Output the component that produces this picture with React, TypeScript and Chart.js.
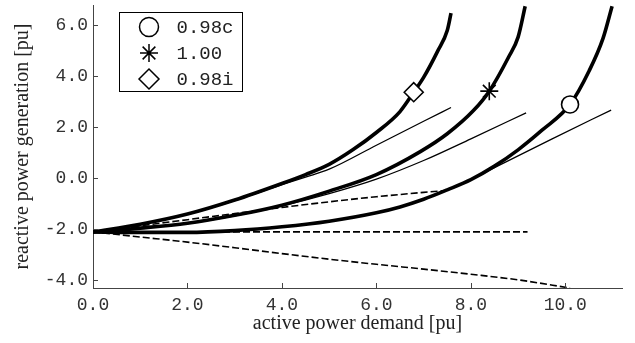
import React, { useEffect, useRef } from 'react';
import { Chart, registerables } from 'chart.js';
import { drawPoint } from 'chart.js/helpers';

Chart.register(...registerables);

// legend / marker series
const seriesLabels = ['0.98c', '1.00', '0.98i'];
const markerStyles = ['circle', 'star', 'rectRot'];
const markerX = [10.1, 8.39, 6.79];
const markerY = [2.9, 3.42, 3.38];

// thick curves
const thickCX = [0, 1, 2, 3, 4, 5, 6, 6.5, 7, 7.5, 8, 8.5, 9, 9.5, 10.1, 10.5, 10.8, 10.99];
const thickCY = [-2.1, -2.12, -2.12, -2.05, -1.9, -1.68, -1.35, -1.12, -0.82, -0.45, -0.05, 0.48, 1.12, 1.88, 2.9, 4.2, 5.5, 6.75];
const thickBX = [0, 1, 2, 3, 4, 5, 6, 6.93, 7.5, 8.06, 8.39, 8.8, 9.0, 9.15];
const thickBY = [-2.1, -1.95, -1.76, -1.45, -1.05, -0.5, 0.15, 1.05, 1.75, 2.67, 3.42, 4.76, 5.54, 6.75];
const thickAX = [0, 1, 2, 3, 4, 4.5, 5, 5.5, 6, 6.5, 6.79, 7.0, 7.3, 7.5, 7.58];
const thickAY = [-2.1, -1.8, -1.4, -0.85, -0.2, 0.15, 0.55, 1.12, 1.8, 2.62, 3.38, 3.96, 5.0, 5.8, 6.48];

// thin curves
const thinCX = [0, 1, 2, 3, 4, 5, 6, 6.5, 7, 7.5, 8, 8.5, 9.7, 10.97];
const thinCY = [-2.1, -2.12, -2.12, -2.05, -1.9, -1.68, -1.35, -1.12, -0.82, -0.45, -0.05, 0.42, 1.53, 2.68];
const thinBX = [0, 1, 2, 3, 4, 5, 6, 7, 8, 9.17];
const thinBY = [-2.1, -1.95, -1.77, -1.47, -1.08, -0.6, -0.03, 0.7, 1.55, 2.57];
const thinAX = [0, 1, 2, 3, 4, 4.5, 5, 6, 7, 7.58];
const thinAY = [-2.1, -1.8, -1.41, -0.87, -0.25, 0.05, 0.36, 1.3, 2.24, 2.78];

// dashed curves
const dash1X = [0, 1, 2, 3, 4, 5, 6, 7, 7.45];
const dash1Y = [-2.1, -1.86, -1.62, -1.38, -1.14, -0.92, -0.72, -0.55, -0.48];
const dash2X = [0, 9.2];
const dash2Y = [-2.1, -2.1];
const dash3X = [0, 1, 2, 3, 4, 5, 6, 7, 8, 9, 10.1];
const dash3Y = [-2.1, -2.3, -2.5, -2.72, -2.95, -3.17, -3.37, -3.56, -3.76, -3.98, -4.3];

// axes
const xTicks = [0, 2, 4, 6, 8, 10];
const yTicks = [-4, -2, 0, 2, 4, 6];
const xMin = 0;
const xMax = 11.2;
const yMin = -4.3;
const yMax = 6.8;
const xTitle = 'active power demand [pu]';
const yTitle = 'reactive power generation [pu]';

const zip = (xs: number[], ys: number[]) => xs.map((x, i) => ({ x, y: ys[i] }));

const MONO = "'Liberation Mono', 'DejaVu Sans Mono', monospace";
const SERIF = "'Liberation Serif', 'DejaVu Serif', serif";
const AXIS_COLOR = '#444';

const innerTicks = {
  id: 'innerTicks',
  afterDraw(chart: any) {
    const { ctx, chartArea, scales } = chart;
    ctx.save();
    ctx.strokeStyle = AXIS_COLOR;
    ctx.lineWidth = 1;
    ctx.beginPath();
    xTicks.forEach((v) => {
      const px = Math.round(scales.x.getPixelForValue(v)) + 0.5;
      ctx.moveTo(px, chartArea.bottom);
      ctx.lineTo(px, chartArea.bottom - 5);
    });
    yTicks.forEach((v) => {
      const py = Math.round(scales.y.getPixelForValue(v)) + 0.5;
      ctx.moveTo(chartArea.left, py);
      ctx.lineTo(chartArea.left + 5, py);
    });
    ctx.stroke();
    ctx.restore();
  },
};

const boxLegend = {
  id: 'boxLegend',
  afterDraw(chart: any) {
    const { ctx } = chart;
    const bx = 119.5, by = 12.5, bw = 123, bh = 79;
    ctx.save();
    ctx.fillStyle = '#fff';
    ctx.fillRect(bx, by, bw, bh);
    ctx.strokeStyle = '#000';
    ctx.lineWidth = 1;
    ctx.strokeRect(bx, by, bw, bh);
    const radii = [9.5, 9, 10];
    seriesLabels.forEach((label, i) => {
      const cy = by + 14.5 + i * 26;
      ctx.fillStyle = '#fff';
      ctx.strokeStyle = '#000';
      ctx.lineWidth = 1.5;
      drawPoint(ctx, { pointStyle: markerStyles[i] as any, radius: radii[i], rotation: 0, borderWidth: 1.5 }, bx + 29.5, cy);
      ctx.fillStyle = '#222';
      ctx.font = `19px ${MONO}`;
      ctx.textBaseline = 'middle';
      ctx.textAlign = 'left';
      ctx.fillText(label, bx + 57, cy + 1);
    });
    ctx.restore();
  },
};

export default function App() {
  const ref = useRef<HTMLCanvasElement>(null);
  useEffect(() => {
    document.body.style.margin = '0';
    const canvas = ref.current!;
    const thick = (xs: number[], ys: number[]) => ({
      data: zip(xs, ys), showLine: true, borderColor: '#000', borderWidth: 3.6, pointRadius: 0,
      cubicInterpolationMode: 'monotone' as const, borderCapStyle: 'butt' as const,
    });
    const thin = (xs: number[], ys: number[]) => ({
      data: zip(xs, ys), showLine: true, borderColor: '#000', borderWidth: 1.3, pointRadius: 0,
      cubicInterpolationMode: 'monotone' as const,
    });
    const dashed = (xs: number[], ys: number[]) => ({
      data: zip(xs, ys), showLine: true, borderColor: '#000', borderWidth: 1.6, pointRadius: 0,
      borderDash: [7, 3], cubicInterpolationMode: 'monotone' as const,
    });
    const markerRadii = [8.5, 9, 9.5];
    const markers = seriesLabels.map((label, i) => ({
      label,
      data: [{ x: markerX[i], y: markerY[i] }],
      showLine: false,
      pointStyle: markerStyles[i],
      pointRadius: markerRadii[i],
      pointBackgroundColor: '#fff',
      pointBorderColor: '#000',
      pointBorderWidth: 1.6,
    }));
    const chart = new Chart(canvas, {
      type: 'scatter',
      data: {
        datasets: [
          ...markers,
          thick(thickCX, thickCY),
          thick(thickBX, thickBY),
          thick(thickAX, thickAY),
          thin(thinCX, thinCY),
          thin(thinBX, thinBY),
          thin(thinAX, thinAY),
          dashed(dash1X, dash1Y),
          dashed(dash2X, dash2Y),
          dashed(dash3X, dash3Y),
        ] as any,
      },
      options: {
        animation: false,
        responsive: false,
        layout: { autoPadding: false, padding: { top: 5, right: 13, left: 0, bottom: 0 } },
        plugins: { legend: { display: false }, tooltip: { enabled: false } },
        scales: {
          x: {
            type: 'linear',
            min: xMin,
            max: xMax,
            afterBuildTicks: (s: any) => { s.ticks = xTicks.map((v) => ({ value: v })); },
            afterFit: (s: any) => { s.height = 55; s.paddingLeft = 0; s.paddingRight = 0; },
            grid: { display: false, drawTicks: false },
            border: { display: true, color: AXIS_COLOR, width: 1 },
            ticks: {
              padding: 6,
              color: '#333',
              font: { family: MONO, size: 18 },
              callback: (v: any) => Number(v).toFixed(1),
              maxRotation: 0,
            },
            title: {
              display: true, text: xTitle, color: '#222',
              font: { family: SERIF, size: 20 }, padding: { top: 0, bottom: 7 },
            },
          },
          y: {
            type: 'linear',
            min: yMin,
            max: yMax,
            afterBuildTicks: (s: any) => { s.ticks = yTicks.map((v) => ({ value: v })); },
            afterFit: (s: any) => { s.width = 93; s.paddingTop = 0; s.paddingBottom = 0; },
            grid: { display: false, drawTicks: false },
            border: { display: true, color: AXIS_COLOR, width: 1 },
            ticks: {
              padding: 5,
              color: '#333',
              font: { family: MONO, size: 18 },
              callback: (v: any) => Number(v).toFixed(1),
            },
            title: {
              display: true, text: yTitle, color: '#222',
              font: { family: SERIF, size: 20 }, padding: { top: 11, bottom: 0 },
            },
          },
        },
      },
      plugins: [innerTicks, boxLegend],
    });
    return () => chart.destroy();
  }, []);
  return <canvas ref={ref} width={635} height={343} style={{ display: 'block', width: 635, height: 343 }} />;
}
